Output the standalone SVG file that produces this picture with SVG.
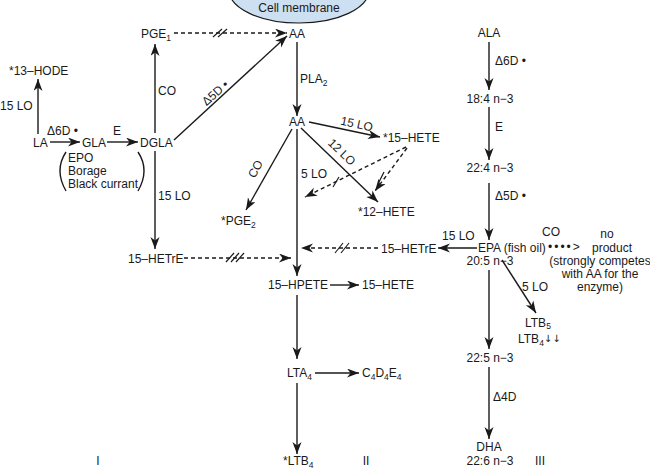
<svg xmlns="http://www.w3.org/2000/svg" width="650" height="473" viewBox="0 0 650 473">
<style>
text{font-family:"Liberation Sans",Arial,sans-serif;font-size:12px;fill:#1a1a1a}
.s{font-size:8.5px}
.ar{font-family:"DejaVu Sans",sans-serif;font-size:10px}
.c line,.c path{stroke:#1a1a1a;stroke-width:1.4;fill:none}
.c .d{stroke-dasharray:4,3}
.c .sl{stroke-width:1.2}
</style>
<defs>
<marker id="ah" markerUnits="userSpaceOnUse" markerWidth="13" markerHeight="10" refX="12" refY="4.5" orient="auto">
<path d="M0,0 L12,4.5 L0,9 L3.5,4.5 z" fill="#1a1a1a"/>
</marker>
</defs>
<rect width="650" height="473" fill="#ffffff"/>

<g id="membrane">
<ellipse cx="299" cy="-10" rx="70" ry="33" fill="#cde0f2" stroke="#1a1a1a" stroke-width="1.2"/>
<text x="299" y="12" text-anchor="middle">Cell membrane</text>
</g>

<g class="c" id="connectors">
<!-- left column -->
<line x1="38" y1="134" x2="38" y2="79" marker-end="url(#ah)"/>
<line x1="50" y1="142" x2="80" y2="142" marker-end="url(#ah)"/>
<line x1="107" y1="142" x2="138" y2="142" marker-end="url(#ah)"/>
<line x1="155" y1="133" x2="155" y2="44" marker-end="url(#ah)"/>
<line x1="155" y1="151" x2="155" y2="249" marker-end="url(#ah)"/>
<line x1="174" y1="140" x2="287" y2="36" marker-end="url(#ah)"/>
<line class="d" x1="174" y1="33" x2="287" y2="33" marker-end="url(#ah)"/>
<line class="sl" x1="213" y1="37" x2="222" y2="29"/>
<line class="sl" x1="218" y1="37" x2="227" y2="29"/>
<line class="d" x1="184" y1="258" x2="291" y2="258" marker-end="url(#ah)"/>
<line class="sl" x1="226" y1="262" x2="234" y2="253"/>
<line class="sl" x1="231" y1="262" x2="239" y2="253"/>
<line class="sl" x1="236" y1="262" x2="244" y2="253"/>
<!-- middle column -->
<line x1="297" y1="42" x2="297" y2="116" marker-end="url(#ah)"/>
<line x1="309" y1="122" x2="380" y2="137" marker-end="url(#ah)"/>
<line x1="301" y1="128" x2="378" y2="202" marker-end="url(#ah)"/>
<line x1="292" y1="129" x2="246" y2="210" marker-end="url(#ah)"/>
<line x1="297" y1="129" x2="297" y2="276" marker-end="url(#ah)"/>
<line class="d" x1="406" y1="147" x2="305" y2="197" marker-end="url(#ah)"/>
<line class="sl" x1="333" y1="187" x2="339" y2="177"/>
<line class="d" x1="407" y1="148" x2="375" y2="191" marker-end="url(#ah)"/>
<line class="sl" x1="379" y1="182" x2="384" y2="172"/>
<line class="d" x1="378" y1="248" x2="301" y2="248" marker-end="url(#ah)"/>
<line class="sl" x1="335" y1="253" x2="343" y2="243"/>
<line class="sl" x1="341" y1="253" x2="349" y2="243"/>
<line x1="330" y1="285" x2="359" y2="285" marker-end="url(#ah)"/>
<line x1="297" y1="295" x2="297" y2="359" marker-end="url(#ah)"/>
<line x1="315" y1="373" x2="359" y2="373" marker-end="url(#ah)"/>
<line x1="297" y1="383" x2="297" y2="454" marker-end="url(#ah)"/>
<!-- right column -->
<line x1="489" y1="42" x2="489" y2="90" marker-end="url(#ah)"/>
<line x1="489" y1="107" x2="489" y2="160" marker-end="url(#ah)"/>
<line x1="489" y1="183" x2="489" y2="240" marker-end="url(#ah)"/>
<line x1="477" y1="248" x2="438" y2="248" marker-end="url(#ah)"/>
<line x1="489" y1="270" x2="489" y2="349" marker-end="url(#ah)"/>
<line x1="502" y1="260" x2="536" y2="313" marker-end="url(#ah)"/>
<line x1="489" y1="367" x2="489" y2="439" marker-end="url(#ah)"/>
</g>

<g id="edge-labels">
<text x="0" y="110">15 LO</text>
<text x="47" y="135">Δ6D •</text>
<text x="113" y="135">E</text>
<text x="158" y="95">CO</text>
<text x="158" y="200">15 LO</text>
<text transform="translate(218,96) rotate(-42)" text-anchor="middle">Δ5D •</text>
<text x="300" y="83">PLA<tspan class="s" dy="3">2</tspan></text>
<text transform="translate(356,128) rotate(12)" text-anchor="middle">15 LO</text>
<text transform="translate(339,155) rotate(44)" text-anchor="middle">12 LO</text>
<text transform="translate(259,171) rotate(-61)" text-anchor="middle">CO</text>
<text x="301" y="178">5 LO</text>
<text x="442" y="240">15 LO</text>
<text x="495" y="65">Δ6D •</text>
<text x="495" y="131">E</text>
<text x="495" y="200">Δ5D •</text>
<text x="522" y="291">5 LO</text>
<text x="493" y="401">Δ4D</text>
<text x="542" y="236">CO</text>
</g>

<g id="n-13hode"><text x="9" y="75">*13–HODE</text></g>
<g id="n-la"><text x="33" y="147">LA</text></g>
<g id="n-gla"><text x="82" y="147">GLA</text></g>
<g id="n-dgla"><text x="140" y="147">DGLA</text></g>
<g id="n-sources">
<text x="68" y="162">EPO</text>
<text x="68" y="175">Borage</text>
<text x="68" y="188">Black currant</text>
<path d="M66,152 Q54,170 66,191" fill="none" stroke="#1a1a1a" stroke-width="1.4"/>
<path d="M138,152 Q150,170 138,191" fill="none" stroke="#1a1a1a" stroke-width="1.4"/>
</g>
<g id="n-pge1"><text x="141" y="38">PGE<tspan class="s" dy="3">1</tspan></text></g>
<g id="n-aa1"><text x="289" y="38">AA</text></g>
<g id="n-aa2"><text x="289" y="126">AA</text></g>
<g id="n-15hete-a"><text x="383" y="142">*15–HETE</text></g>
<g id="n-12hete"><text x="358" y="216">*12–HETE</text></g>
<g id="n-pge2"><text x="221" y="225">*PGE<tspan class="s" dy="3">2</tspan></text></g>
<g id="n-15hetre-l"><text x="128" y="263">15–HETrE</text></g>
<g id="n-15hetre-r"><text x="381" y="253">15–HETrE</text></g>
<g id="n-15hpete"><text x="268" y="289">15–HPETE</text></g>
<g id="n-15hete-b"><text x="362" y="289">15–HETE</text></g>
<g id="n-lta4"><text x="287" y="377">LTA<tspan class="s" dy="3">4</tspan></text></g>
<g id="n-c4d4e4"><text x="362" y="377">C<tspan class="s" dy="3">4</tspan><tspan dy="-3">D</tspan><tspan class="s" dy="3">4</tspan><tspan dy="-3">E</tspan><tspan class="s" dy="3">4</tspan></text></g>
<g id="n-ltb4"><text x="283" y="465">*LTB<tspan class="s" dy="3">4</tspan></text></g>
<g id="n-ala"><text x="489" y="37" text-anchor="middle">ALA</text></g>
<g id="n-184"><text x="490" y="103" text-anchor="middle">18:4 n−3</text></g>
<g id="n-224"><text x="490" y="172" text-anchor="middle">22:4 n−3</text></g>
<g id="n-epa">
<text x="478" y="252">EPA (fish oil)</text>
<text x="490" y="265" text-anchor="middle">20:5 n−3</text>
</g>
<g id="n-noproduct">
<text x="548" y="251" font-size="11px" letter-spacing="2">••••&gt;</text>
<text x="607" y="238" text-anchor="middle">no</text>
<text x="612" y="252" text-anchor="middle">product</text>
<text x="600" y="265" text-anchor="middle">(strongly competes</text>
<text x="600" y="278" text-anchor="middle">with AA for the</text>
<text x="600" y="291" text-anchor="middle">enzyme)</text>
</g>
<g id="n-ltb5">
<text x="525" y="327">LTB<tspan class="s" dy="2">5</tspan></text>
<text x="518" y="343">LTB<tspan class="s" dy="3">4</tspan><tspan class="ar" dy="-4">↓↓</tspan></text>
</g>
<g id="n-225"><text x="490" y="362" text-anchor="middle">22:5 n−3</text></g>
<g id="n-dha">
<text x="489" y="451" text-anchor="middle">DHA</text>
<text x="490" y="465" text-anchor="middle">22:6 n−3</text>
</g>
<g id="roman">
<text x="98" y="465" text-anchor="middle">I</text>
<text x="366" y="465" text-anchor="middle">II</text>
<text x="540" y="465" text-anchor="middle">III</text>
</g>
</svg>
